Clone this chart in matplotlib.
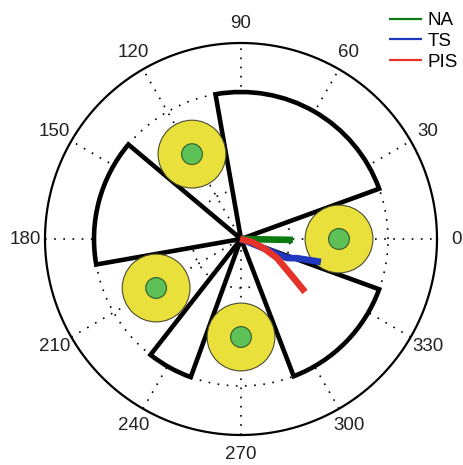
import numpy as np
import matplotlib
matplotlib.use("Agg")
import matplotlib.pyplot as plt
from matplotlib.patches import Wedge, Circle

plt.rcParams["font.family"] = ["Liberation Sans", "DejaVu Sans"]

# polar grid
spoke_angles = [0, 30, 60, 90, 120, 150, 180, 210, 240, 270, 300, 330]
ring_radii = [0.25, 0.5, 0.75]
r_max = 1.0

# sectors (deg, radius)
sector_start = [20, 140, 232, 291]
sector_end = [100, 190, 250, 340]
sector_r = [0.75, 0.75, 0.75, 0.75]

# yellow targets
target_theta = [0, 120, 210, 270]
target_dist = [0.5, 0.5, 0.5, 0.5]
target_outer = 0.173
target_inner = 0.053

# trajectories (theta deg, r)
na_theta = [0, -1]
na_r = [0.0, 0.265]
ts_theta = [0, -22.4, -19, -16]
ts_r = [0.0, 0.254, 0.301, 0.424]
pis_theta = [180, -15, -22.7, -27.8, -34, -37.3, -39.6]
pis_r = [0.005, 0.058, 0.133, 0.208, 0.283, 0.353, 0.424]

fig = plt.figure(figsize=(4.64, 4.65), dpi=100)
ax = fig.add_axes([0, 0, 1, 1])
ax.set_xlim(-241 / 196, 223 / 196)
ax.set_ylim(-226 / 196, 239 / 196)
ax.axis("off")

# dotted grid
t = np.linspace(0, 2 * np.pi, 400)
for rr in ring_radii:
    ax.plot(rr * np.cos(t), rr * np.sin(t), color="black", lw=1.2,
            linestyle=(0, (1, 4.5)), zorder=1)
for a in spoke_angles[:6]:
    rad = np.deg2rad(a)
    ax.plot([-r_max * np.cos(rad), r_max * np.cos(rad)],
            [-r_max * np.sin(rad), r_max * np.sin(rad)],
            color="black", lw=1.2, linestyle=(0, (1, 4.5)), zorder=1)
ax.plot(r_max * np.cos(t), r_max * np.sin(t), color="black", lw=1.6, zorder=2)

for a in spoke_angles:
    rad = np.deg2rad(a)
    ax.text(1.1 * r_max * np.cos(rad), 1.1 * r_max * np.sin(rad), str(a),
            ha="center", va="center", fontsize=13.5, color="#222222")

for s, e, r in zip(sector_start, sector_end, sector_r):
    ax.add_patch(Wedge((0, 0), r, s, e, facecolor="white", edgecolor="black",
                       lw=3.3, joinstyle="miter", zorder=3))

for th, d in zip(target_theta, target_dist):
    c = (d * np.cos(np.deg2rad(th)), d * np.sin(np.deg2rad(th)))
    ax.add_patch(Circle(c, target_outer, facecolor="#EAE03C", edgecolor="#4a4a30",
                        lw=0.8, zorder=4))
    ax.add_patch(Circle(c, target_inner, facecolor="#5DC158", edgecolor="#2f5a2a",
                        lw=0.8, zorder=5))

def polar_xy(theta, r):
    th = np.deg2rad(np.asarray(theta, float))
    r = np.asarray(r, float)
    return r * np.cos(th), r * np.sin(th)

x, y = polar_xy(na_theta, na_r)
ax.plot(x, y, color="#0B7A10", lw=4.8, zorder=6, solid_capstyle="butt", label="NA")
x, y = polar_xy(ts_theta, ts_r)
ax.plot(x, y, color="#2038C0", lw=4.8, zorder=6, solid_capstyle="butt", label="TS")
x, y = polar_xy(pis_theta, pis_r)
ax.plot(x, y, color="#E5332A", lw=4.8, zorder=7, solid_capstyle="butt", label="PIS")

leg = ax.legend(loc="upper left", bbox_to_anchor=(389 / 464, 1 - 12 / 465),
                frameon=False, fontsize=13.5, handlelength=1.75, handletextpad=0.3,
                labelspacing=0.2, borderpad=0, borderaxespad=0)
for h in leg.get_lines():
    h.set_linewidth(1.6)

fig.savefig("out.png", dpi=100)
